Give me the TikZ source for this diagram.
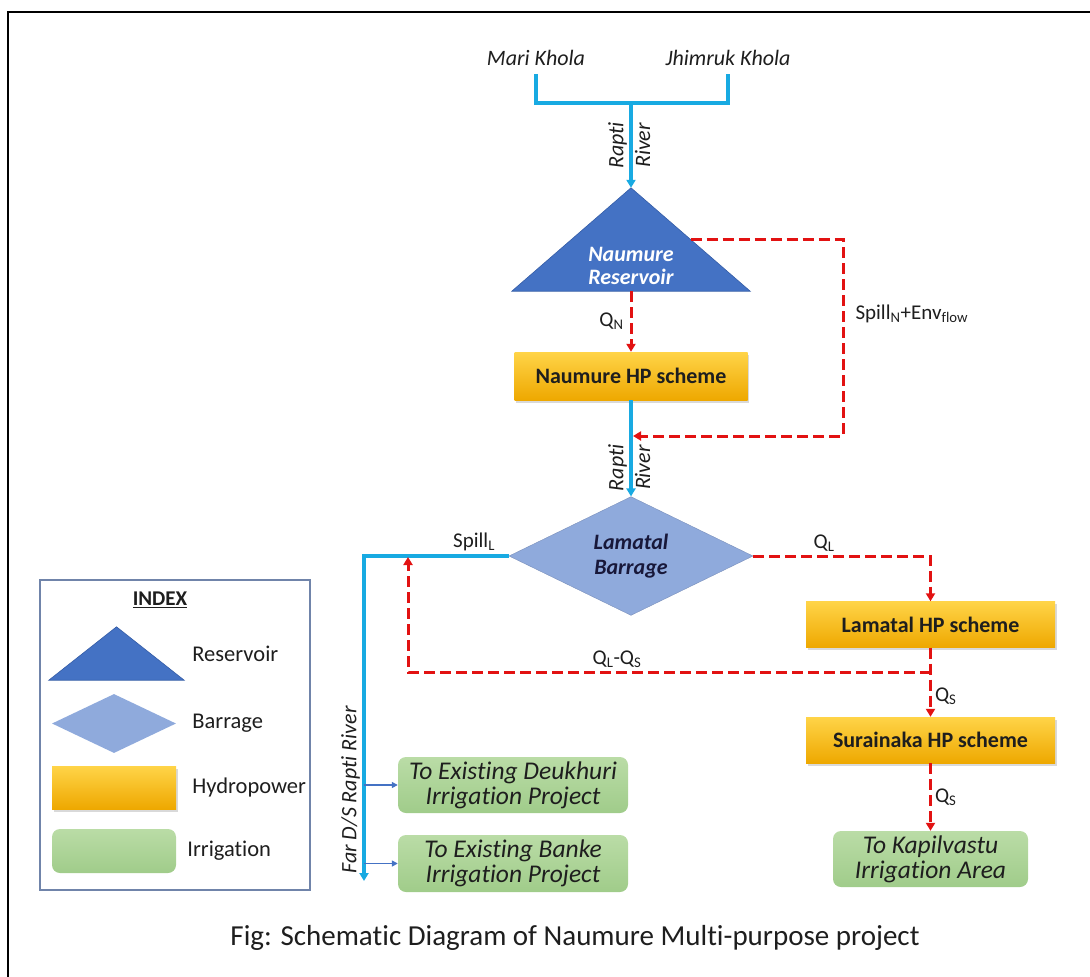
\documentclass[tikz,border=0pt]{standalone}
\usepackage{fontspec}
\setmainfont{Carlito}[Ligatures=NoCommon]
\usetikzlibrary{shapes.geometric, arrows.meta, positioning, calc, shadows}

\definecolor{riverblue}{RGB}{24,170,226}
\definecolor{flowred}{RGB}{226,18,18}
\definecolor{resblue}{RGB}{68,114,196}
\definecolor{resedge}{RGB}{52,92,166}
\definecolor{barblue}{RGB}{143,170,220}
\definecolor{hptop}{RGB}{255,212,72}
\definecolor{hpbot}{RGB}{238,168,0}
\definecolor{irrtop}{RGB}{186,220,166}
\definecolor{irrbot}{RGB}{160,204,138}
\definecolor{idxedge}{RGB}{112,132,170}
\definecolor{navy}{RGB}{24,24,58}
\definecolor{ink}{RGB}{30,30,30}

\begin{document}
\begin{tikzpicture}[x=1pt, y=-1pt,
    river/.style={riverblue, line width=4pt},
    flow/.style={flowred, line width=3pt, dash pattern=on 11pt off 5pt},
    tip/.style={-{Triangle[length=8pt, width=9pt]}},
    branch/.style={resblue, line width=1.6pt, -{Triangle[length=6pt, width=6pt]}},
    hpbox/.style={top color=hptop, bottom color=hpbot, inner sep=0pt, text=ink,
        drop shadow={shadow xshift=1.5pt, shadow yshift=-2.5pt, opacity=.3},
        font=\fontsize{22}{24}\selectfont\bfseries},
    irrbox/.style={rounded corners=8pt, top color=irrtop, bottom color=irrbot, inner sep=0pt, text=ink,
        align=center, font=\fontsize{25.5}{25}\selectfont\itshape},
    lbl/.style={font=\fontsize{21}{22}\selectfont, inner sep=3pt, text=ink},
    rname/.style={font=\fontsize{22}{23}\selectfont\itshape, inner sep=2pt, text=ink},
    keytext/.style={font=\fontsize{22.5}{24}\selectfont, inner sep=0pt, text=ink}]

    \useasboundingbox (0,0) rectangle (1090,977);
    \draw[line width=2.2pt] (8,977) -- (8,12) -- (1090,12);

    % rivers coming in
    \node[rname] (mari) at (536,58) {Mari Khola};
    \node[rname] (jhim) at (728,58) {Jhimruk Khola};
    \coordinate (rj) at (631,103);
    \draw[river] ([yshift=-6pt]mari.south) |- (rj) -| ([yshift=-6pt]jhim.south);

    % reservoir
    \node[minimum width=238pt, minimum height=103pt, inner sep=0pt] (nres) at (631,239.5) {};
    \fill[resblue, draw=resedge, line width=.6pt] (nres.south west) -- (nres.north) -- (nres.south east) -- cycle;
    \node[align=center, text=white, font=\fontsize{22}{23}\selectfont\bfseries\itshape] (restext) at (631,266) {Naumure\\Reservoir};
    \draw[river, tip] (rj) -- node[rname, rotate=90, above]{Rapti} node[rname, rotate=90, below]{River} (nres.north);

    \node[hpbox, minimum width=233pt, minimum height=48pt] (nhp) at (631,376) {Naumure HP scheme};
    \draw[flow, tip] (nres.south) -- node[lbl, left, xshift=-3pt]{Q\textsubscript{N}} (nhp.north);

    % barrage
    \node[diamond, fill=barblue, draw=barblue!85!black, line width=.4pt, inner sep=0pt,
        minimum width=244pt, minimum height=90pt, align=center, text=navy,
        font=\fontsize{22}{25}\selectfont\bfseries\itshape] (lam) at (631,556) {Lamatal\\Barrage};
    \draw[river, tip] (nhp.south) -- node[rname, rotate=90, above, pos=.7]{Rapti} node[rname, rotate=90, below, pos=.7]{River} (lam.north);

    \coordinate (sn) at (843,436);
    \draw[flow, tip] ($(nres.north)!.5!(nres.south east)$) -| node[lbl, pos=.69, right, xshift=8pt]{Spill\textsubscript{N}+Env\textsubscript{flow}} (sn) -- ([xshift=2pt]nhp.south |- sn);

    % hydropower chain on the right
    \node[hpbox, minimum width=249pt, minimum height=46pt] (lhp) at (930.5,624.5) {Lamatal HP scheme};
    \node[hpbox, minimum width=249pt, minimum height=46pt] (shp) at (930.5,740) {Surainaka HP scheme};
    \node[irrbox, minimum width=195pt, minimum height=56pt] (kap) at (930.5,859) {To Kapilvastu\\Irrigation Area};

    \draw[flow, tip] (lam.east) -| node[lbl, pos=.2, above]{Q\textsubscript{L}} (lhp.north);
    \draw[flow, tip] (lhp.south) -- node[lbl, pos=.7, right]{Q\textsubscript{S}} (shp.north);
    \draw[flow, tip] (shp.south) -- node[lbl, pos=.5, right]{Q\textsubscript{S}} (kap.north);

    % spill down the old river
    \coordinate (farend) at (364,881);
    \draw[river, tip] (lam.west) -| node[lbl, pos=.12, above]{Spill\textsubscript{L}}
        node[rname, rotate=90, above, pos=.86]{Far D/S Rapti River} (farend);
    \coordinate (qlqs) at (930.5,672);
    \draw[flow, tip] (qlqs) -| node[lbl, pos=.3, above]{Q\textsubscript{L}-Q\textsubscript{S}} (408,557);

    \node[irrbox, minimum width=230pt, minimum height=56pt] (deu) at (513,785) {To Existing Deukhuri\\Irrigation Project};
    \node[irrbox, minimum width=230pt, minimum height=57pt] (ban) at (513,863.5) {To Existing Banke\\Irrigation Project};
    \draw[branch] (deu.west -| farend) -- (deu.west);
    \draw[branch] (ban.west -| farend) -- (ban.west);

    % index
    \node[draw=idxedge, line width=1.2pt, minimum width=270pt, minimum height=310pt] (index) at (175,735) {};
    \node[font=\fontsize{21}{24}\selectfont\bfseries, text=ink] (idxhead) at (160,600) {\underline{INDEX}};
    \node[minimum width=135pt, minimum height=53pt, inner sep=0pt] (itri) at (116.5,653.5) {};
    \fill[resblue, draw=resedge, line width=.6pt] (itri.south west) -- (itri.north) -- (itri.south east) -- cycle;
    \node[diamond, fill=barblue, inner sep=0pt, minimum width=124pt, minimum height=59pt] (idia) at (114,723.5) {};
    \node[hpbox, minimum width=124pt, minimum height=43pt] (ihp) at (114,787.5) {};
    \node[irrbox, minimum width=124pt, minimum height=44pt] (iirr) at (114,851) {};
    \node[keytext, right=8pt of itri] {Reservoir};
    \node[keytext, right=16pt of idia] {Barrage};
    \node[keytext, right=16pt of ihp] {Hydropower};
    \node[keytext, right=11pt of iirr] {Irrigation};

    \node[font=\fontsize{29}{32}\selectfont, text=ink] (cap) at (575,938) {Fig: Schematic Diagram of Naumure Multi-purpose project};
\end{tikzpicture}
\end{document}
